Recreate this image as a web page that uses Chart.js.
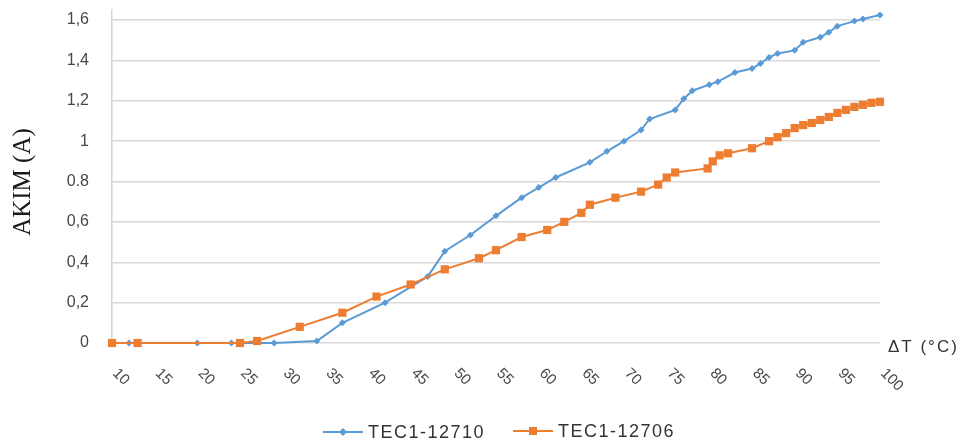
<!DOCTYPE html>
<html>
<head>
<meta charset="utf-8">
<script src="https://cdn.jsdelivr.net/npm/chart.js@4.4.1/dist/chart.umd.min.js"></script>
<style>
  html, body { margin: 0; padding: 0; background: #fff; }
  #wrap { width: 974px; height: 448px; position: relative; }
</style>
</head>
<body>
<div id="wrap"><canvas id="chart"></canvas></div>
<script>
// ΔT (°C) vs current (A) for the two modules
const deltaT12710 = [12, 20, 24, 29, 34, 37, 42, 47, 49, 52, 55, 58, 60, 62, 66, 68, 70, 72, 73, 76, 77, 78, 80, 81, 83, 85, 86, 87, 88, 90, 91, 93, 94, 95, 97, 98, 100];
const current12710 = [0, 0, 0, 0, 0.01, 0.1, 0.2, 0.33, 0.455, 0.535, 0.63, 0.72, 0.77, 0.82, 0.895, 0.95, 1.0, 1.055, 1.11, 1.155, 1.21, 1.25, 1.28, 1.295, 1.34, 1.36, 1.385, 1.415, 1.435, 1.45, 1.49, 1.515, 1.54, 1.57, 1.595, 1.605, 1.625];

const deltaT12706 = [10, 13, 25, 27, 32, 37, 41, 45, 49, 53, 55, 58, 61, 63, 65, 66, 69, 72, 74, 75, 76, 79.8, 80.4, 81.2, 82.2, 85, 87, 88, 89, 90, 91, 92, 93, 94, 95, 96, 97, 98, 99, 100];
const current12706 = [0, 0, 0, 0.01, 0.08, 0.15, 0.23, 0.29, 0.365, 0.42, 0.46, 0.525, 0.56, 0.6, 0.645, 0.685, 0.72, 0.75, 0.785, 0.82, 0.845, 0.865, 0.9, 0.93, 0.94, 0.965, 1.0, 1.02, 1.04, 1.065, 1.08, 1.09, 1.105, 1.12, 1.14, 1.155, 1.17, 1.18, 1.19, 1.195];

const seriesNames = ['TEC1-12710', 'TEC1-12706'];
const xTickValues = [10, 15, 20, 25, 30, 35, 40, 45, 50, 55, 60, 65, 70, 75, 80, 85, 90, 95, 100];
const yTickValues = [0, 0.2, 0.4, 0.6, 0.8, 1, 1.2, 1.4, 1.6];
const yTickLabels = ['0', '0,2', '0,4', '0,6', '0.8', '1', '1,2', '1,4', '1,6'];

const BLUE = '#5b9bd5';
const ORANGE = '#ed7d31';
const TEXT = '#484848';

const toPoints = (xs, ys) => xs.map((x, i) => ({ x, y: ys[i] }));

function diamond (ctx, x, y, r) {
  ctx.beginPath();
  ctx.moveTo(x, y - r);
  ctx.lineTo(x + r, y);
  ctx.lineTo(x, y + r);
  ctx.lineTo(x - r, y);
  ctx.closePath();
  ctx.fill();
}

// axis text, axis titles and the legend row under the plot
const extras = {
  id: 'extras',
  afterDraw (chart) {
    const ctx = chart.ctx;
    const xs = chart.scales.x;
    const ys = chart.scales.y;
    const base = ys.getPixelForValue(0);

    ctx.save();
    ctx.fillStyle = TEXT;
    ctx.font = '15px "Liberation Sans", Arial, sans-serif';
    ctx.textAlign = 'left';
    ctx.textBaseline = 'middle';
    xTickValues.forEach(v => {
      const px = xs.getPixelForValue(v);
      ctx.save();
      ctx.translate(px + 3, base + 28);
      ctx.rotate(Math.PI / 4);
      ctx.fillText(String(v), 0, 0);
      ctx.restore();
    });

    ctx.fillStyle = '#333';
    ctx.font = '17px "Liberation Sans", Arial, sans-serif';
    ctx.letterSpacing = '2px';
    ctx.fillText('ΔT (°C)', 888, base + 4);
    ctx.letterSpacing = '0px';

    // y title
    ctx.save();
    ctx.translate(23, 182);
    ctx.rotate(-Math.PI / 2);
    ctx.textAlign = 'center';
    ctx.fillStyle = '#1a1a1a';
    ctx.font = '25px "Liberation Serif", "Times New Roman", serif';
    ctx.fillText('AKIM (A)', 0, 0);
    ctx.restore();

    // legend
    const items = [
      { x: 323, y: 432, color: BLUE, label: seriesNames[0], marker: 'diamond' },
      { x: 513, y: 431, color: ORANGE, label: seriesNames[1], marker: 'square' }
    ];
    ctx.font = '18px "Liberation Sans", Arial, sans-serif';
    ctx.letterSpacing = '1.5px';
    ctx.textAlign = 'left';
    items.forEach(it => {
      ctx.strokeStyle = it.color;
      ctx.lineWidth = 2;
      ctx.beginPath();
      ctx.moveTo(it.x, it.y);
      ctx.lineTo(it.x + 40, it.y);
      ctx.stroke();
      ctx.fillStyle = it.color;
      if (it.marker === 'diamond') {
        diamond(ctx, it.x + 20, it.y, 4);
      } else {
        ctx.fillRect(it.x + 16, it.y - 4, 8, 8);
      }
      ctx.fillStyle = '#333';
      ctx.fillText(it.label, it.x + 45, it.y + 1);
    });
    ctx.restore();
  }
};

new Chart(document.getElementById('chart'), {
  type: 'scatter',
  data: {
    datasets: [
      {
        label: seriesNames[0],
        data: toPoints(deltaT12710, current12710),
        showLine: true,
        borderColor: BLUE,
        backgroundColor: BLUE,
        borderWidth: 2,
        pointStyle: 'rectRot',
        pointRadius: 3.5,
        pointBorderWidth: 0,
        clip: false,
        order: 1
      },
      {
        label: seriesNames[1],
        data: toPoints(deltaT12706, current12706),
        showLine: true,
        borderColor: ORANGE,
        backgroundColor: ORANGE,
        borderWidth: 2,
        pointStyle: 'rect',
        pointRadius: 5.8,
        pointBorderWidth: 0,
        clip: false,
        order: 0
      }
    ]
  },
  options: {
    responsive: true,
    maintainAspectRatio: false,
    animation: false,
    layout: { padding: { left: 0, top: 10, right: 94, bottom: 105 } },
    plugins: {
      legend: { display: false },
      tooltip: { enabled: false }
    },
    scales: {
      x: {
        type: 'linear',
        display: false,
        min: 10,
        max: 100
      },
      y: {
        min: 0,
        max: 1.65,
        afterBuildTicks: axis => {
          axis.ticks = yTickValues.map(value => ({ value }));
        },
        afterFit: axis => {
          axis.width = 112;
        },
        grid: {
          color: '#d9d9d9',
          lineWidth: 1.5,
          drawTicks: true,
          tickLength: 23,
          tickColor: 'rgba(0,0,0,0)'
        },
        border: { color: '#d4d4d4', width: 1.5 },
        ticks: {
          padding: 0,
          color: TEXT,
          font: { family: '"Liberation Sans", Arial, sans-serif', size: 16 },
          callback: (value, i) => yTickLabels[i]
        }
      }
    }
  },
  plugins: [extras]
});
</script>
</body>
</html>
